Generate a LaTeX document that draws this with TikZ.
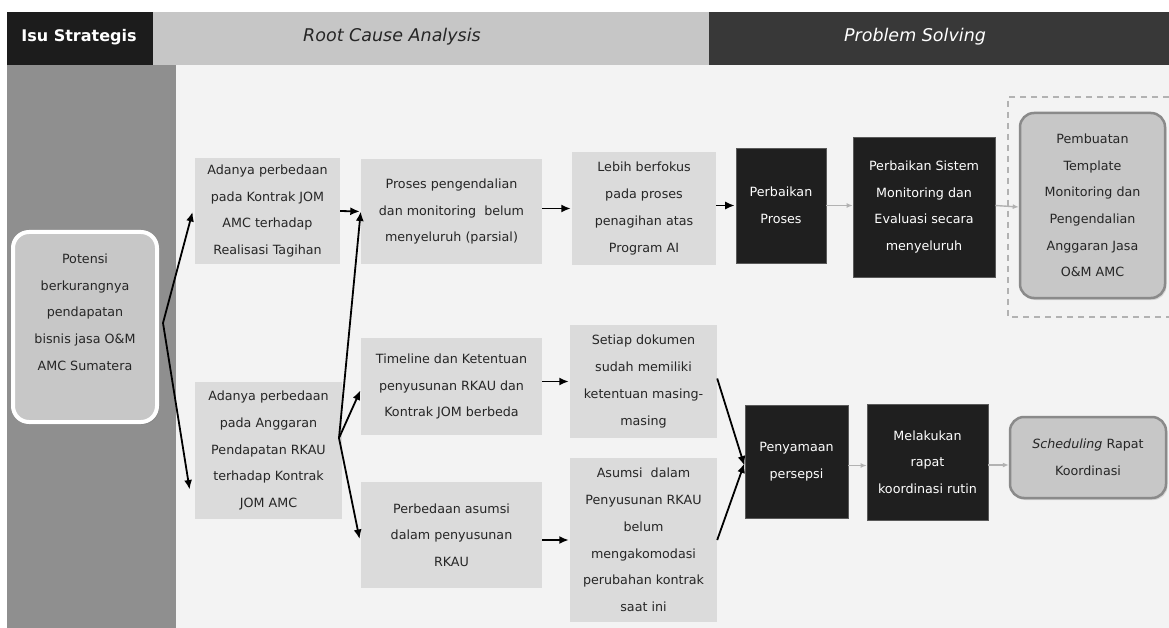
\documentclass[tikz,border=0pt]{standalone}
\usepackage{fontspec}
\setmainfont{DejaVu Sans}
\usetikzlibrary{arrows.meta,shadows}
\definecolor{hblack}{HTML}{1C1C1C}
\definecolor{hgray}{HTML}{C6C6C6}
\definecolor{hdark}{HTML}{383838}
\definecolor{colgray}{HTML}{8F8F8F}
\definecolor{bodybg}{HTML}{F3F3F3}
\definecolor{lightbox}{HTML}{DBDBDB}
\definecolor{txtc}{HTML}{262626}
\definecolor{blackbox}{HTML}{1F1F1F}
\definecolor{roundfill}{HTML}{C7C7C7}
\definecolor{roundline}{HTML}{8A8A8A}
\definecolor{thinarrow}{HTML}{B2B2B2}
\begin{document}
\begin{tikzpicture}[x=1pt,y=-1pt,
  boxtext/.style={align=center,font=\fontsize{12.7}{26.7}\selectfont},
  lbox/.style={boxtext,fill=lightbox,text=txtc,inner sep=0pt},
  bbox/.style={boxtext,fill=blackbox,draw=gray!70!black,line width=0.6pt,text=white,inner sep=0pt},
  rbox/.style={boxtext,fill=roundfill,draw=roundline,line width=2.5pt,rounded corners=14pt,text=txtc,inner sep=0pt,
     drop shadow={opacity=0.25,shadow xshift=1.5pt,shadow yshift=-2pt}},
  hdrtext/.style={font=\fontsize{17.5}{20}\selectfont,inner sep=0pt},
  arr/.style={line width=1.8pt,black,-{Latex[length=9.5pt,width=8pt]},shorten >=1pt},
  garr/.style={line width=1.4pt,thinarrow,-{Latex[length=6pt,width=5pt]}},
]
\useasboundingbox (0,0) rectangle (1169,628);
% backgrounds
\fill[white] (0,0) rectangle (1169,628);
\fill[colgray] (7,65) rectangle (176,628);
\fill[bodybg] (176,65) rectangle (1169,628);
\fill[hblack] (7,12) rectangle (153,65);
\fill[hgray] (153,12) rectangle (709,65);
\fill[hdark] (709,12) rectangle (1169,65);
\node[hdrtext,text=white,font=\fontsize{16}{20}\selectfont\bfseries] (hisu) at (79,37) {Isu Strategis};
\node[hdrtext,text=txtc] (hrca) at (392,37) {\itshape Root Cause Analysis};
\node[hdrtext,text=white] (hps) at (915,37) {\itshape Problem Solving};

% dashed frame
\draw[thinarrow,line width=1.4pt,dash pattern=on 6pt off 5pt] (1180,97) -- (1008,97) -- (1008,317) -- (1180,317);

% left issue box
\node[rbox,draw=white,line width=4pt,rounded corners=16pt,minimum width=144pt,minimum height=190pt,
   drop shadow={opacity=0.35,shadow xshift=2pt,shadow yshift=-2.5pt}] (pot) at (85,327) {};
\node[boxtext,text=txtc,inner sep=0pt] (pottxt) at (85,312) {Potensi\\berkurangnya\\pendapatan\\bisnis jasa O\&M\\AMC Sumatera};

% root cause boxes
\node[lbox,minimum width=145pt,minimum height=106pt] (a1) at (267.5,211) {Adanya perbedaan\\pada Kontrak JOM\\AMC terhadap\\Realisasi Tagihan};
\node[lbox,minimum width=147pt,minimum height=137pt] (a2) at (268.5,450.5) {Adanya perbedaan\\pada Anggaran\\Pendapatan RKAU\\terhadap Kontrak\\JOM AMC};
\node[lbox,minimum width=181pt,minimum height=105pt] (b1) at (451.5,211.5) {Proses pengendalian\\dan monitoring\ \ belum\\menyeluruh (parsial)};
\node[lbox,minimum width=181pt,minimum height=97pt] (b2) at (451.5,386.5) {Timeline dan Ketentuan\\penyusunan RKAU dan\\Kontrak JOM berbeda};
\node[lbox,minimum width=181pt,minimum height=106pt] (b3) at (451.5,535) {Perbedaan asumsi\\dalam penyusunan\\RKAU};
\node[lbox,minimum width=144pt,minimum height=113pt] (c1) at (644,208.5) {Lebih berfokus\\pada proses\\penagihan atas\\Program AI};
\node[lbox,minimum width=147pt,minimum height=113pt] (c2) at (643.5,381.5) {Setiap dokumen\\sudah memiliki\\ketentuan masing-\\masing};
\node[lbox,minimum width=147pt,minimum height=164pt] (c3) at (643.5,540) {Asumsi\ \ dalam\\Penyusunan RKAU\\belum\\mengakomodasi\\perubahan kontrak\\saat ini};

% problem solving boxes
\node[bbox,minimum width=90pt,minimum height=115pt] (d1) at (781,205.5) {Perbaikan\\Proses};
\node[bbox,minimum width=142pt,minimum height=140pt] (e1) at (924,207) {Perbaikan Sistem\\Monitoring dan\\Evaluasi secara\\menyeluruh};
\node[rbox,minimum width=145pt,minimum height=185pt] (f1) at (1092.5,205.5) {Pembuatan\\Template\\Monitoring dan\\Pengendalian\\Anggaran Jasa\\O\&M AMC};
\node[bbox,minimum width=103pt,minimum height=113pt] (d2) at (796.5,461.5) {Penyamaan\\persepsi};
\node[bbox,minimum width=121pt,minimum height=116pt] (e2) at (927.5,462) {Melakukan\\rapat\\koordinasi rutin};
\node[rbox,minimum width=156pt,minimum height=81pt] (f2) at (1088,457.5) {\itshape Scheduling\upshape{} Rapat\\Koordinasi};

% connectors
\coordinate (pf) at (163,323);
\coordinate (af) at (339,438);
\draw[arr] (pf) -- ([xshift=-2pt]a1.west);
\draw[arr] (pf) -- ([xshift=-5pt,yshift=-40pt]a2.west);
\draw[arr] (a1.east) -- (b1.west);
\draw[arr] (af) -- ([yshift=1pt]b1.west);
\draw[arr] (af) -- ([yshift=-3pt]b2.west);
\draw[arr] (af) -- ([xshift=-1pt,yshift=-5pt]b3.west);
\draw[arr] (b1.east |- c1.west) -- (c1.west);
\draw[arr] (c1.east |- d1.west) -- (d1.west);
\draw[arr] (b2.east |- c2.west) -- (c2.west);
\draw[arr] (b3.east |- c3.west) -- (c3.west);
\draw[arr] ([yshift=3pt]c2.east) -- ([yshift=-5pt]d2.west);
\draw[arr] (c3.east) -- ([yshift=-1pt]d2.west);
\draw[garr] (d1.east) -- (d1.east -| e1.west);
\draw[garr] (e1.east |- d1.east) -- (e1.east -| f1.west);
\draw[garr] ([yshift=-4pt]d2.east) -- ([yshift=-4pt]d2.east -| e2.west);
\draw[garr] ([yshift=-3pt]e2.east) -- ([yshift=-3pt]e2.east -| f2.west);
\end{tikzpicture}
\end{document}
